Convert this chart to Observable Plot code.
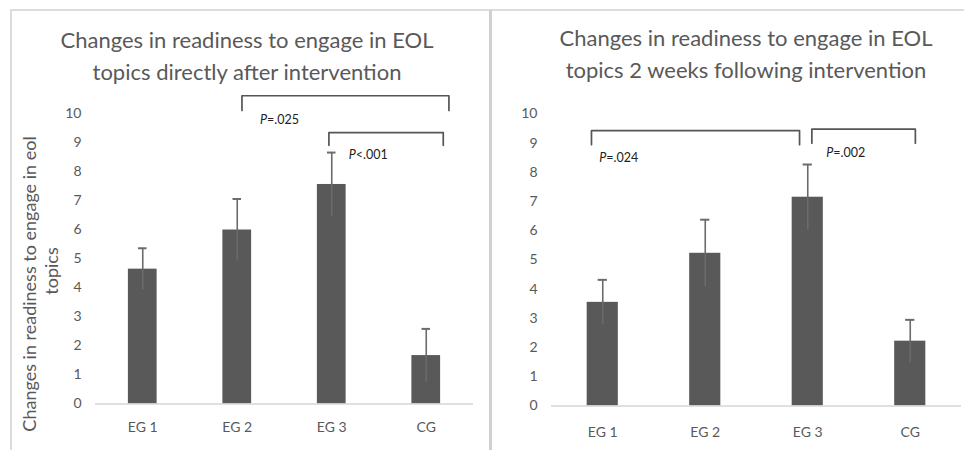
<!DOCTYPE html>
<html>
<head>
<meta charset="utf-8">
<script src="https://cdn.jsdelivr.net/npm/d3@7"></script>
<script src="https://cdn.jsdelivr.net/npm/@observablehq/plot@0.6"></script>
<style>
  html, body { margin: 0; padding: 0; background: #fff; }
  #wrap { position: relative; width: 964px; height: 450px; overflow: hidden; font-family: Lato, sans-serif; }
  .title { position: absolute; font-family: Lato, sans-serif; font-size: 22px; line-height: 32px; color: #595959; text-align: center; white-space: nowrap; }
  .plot { position: absolute; top: 85px; }
  .line { position: absolute; background: #dcdcdc; }
</style>
</head>
<body>
<div id="wrap">
  <div class="line" style="left:10px; top:9px; width:954px; height:2px;"></div>
  <div class="line" style="left:10px; top:10px; width:2px; height:440px;"></div>
  <div class="line" style="left:489px; top:10px; width:3px; height:440px; background:#d0d0d0;"></div>
  <div class="title" id="t1" style="left:47px; width:400px; top:24px;">Changes in readiness to engage in EOL<br>topics directly after intervention</div>
  <div class="title" id="t2" style="left:546px; width:400px; top:22px;">Changes in readiness to engage in EOL<br>topics 2 weeks following intervention</div>
  <div class="plot" id="p1" style="left:0px;"></div>
  <div class="plot" id="p2" style="left:482px;"></div>
</div>
<script>
// ---- data ----
const categories = ["EG 1", "EG 2", "EG 3", "CG"];
const yTicks = [0, 1, 2, 3, 4, 5, 6, 7, 8, 9, 10];

const afterMeans = [4.65, 6.0, 7.57, 1.67];
const afterErrors = [0.72, 1.07, 1.1, 0.92];

const weeksMeans = [3.55, 5.23, 7.15, 2.22];
const weeksErrors = [0.77, 1.15, 1.12, 0.73];

// significance brackets (data units: x = category position, y = value)
const afterBrackets = [
  {from: 2.05, to: 4.24, top: 10.63, end: 10.12},
  {from: 2.97, to: 4.18, top: 9.36, end: 8.92}
];
const afterPLabels = [
  {x: 2.24, y: 9.81, text: "P=.025"},
  {x: 3.18, y: 8.57, text: "P<.001"}
];
const weeksBrackets = [
  {from: 0.89, to: 2.92, top: 9.43, end: 8.95},
  {from: 3.04, to: 4.05, top: 9.48, end: 9.0}
];
const weeksPLabels = [
  {x: 0.965, y: 8.49, text: "P=.024"},
  {x: 3.18, y: 8.66, text: "P=.002"}
];

// ---- drawing ----
const BAR_HALF = 0.152;
const CAP_HALF = 0.045;
const barColor = "#595959";
const errColor = "#6b6b6b";
const textColor = "#595959";

function makeChart(means, errors, brackets, pLabels, opts) {
  const rows = categories.map((c, i) => ({cat: c, pos: i + 1, mean: means[i], err: errors[i]}));
  const bracketPts = brackets.flatMap((b, k) => [
    {k, x: b.from, y: b.end}, {k, x: b.from, y: b.top},
    {k, x: b.to, y: b.top}, {k, x: b.to, y: b.end}
  ]);
  const marks = [
    Plot.rectY(rows, {x1: d => d.pos - BAR_HALF, x2: d => d.pos + BAR_HALF, y1: 0, y2: "mean", fill: barColor}),
    Plot.ruleY([0], {stroke: "#d6d6d6", strokeWidth: 1.5}),
    Plot.ruleX(rows, {x: "pos", y1: d => d.mean - d.err, y2: d => d.mean + d.err, stroke: errColor, strokeWidth: 1.6}),
    Plot.ruleY(rows, {y: d => d.mean + d.err, x1: d => d.pos - CAP_HALF, x2: d => d.pos + CAP_HALF, stroke: errColor, strokeWidth: 2}),
    Plot.line(bracketPts, {x: "x", y: "y", z: "k", stroke: "#555", strokeWidth: 1.7}),
    Plot.text(pLabels, {x: "x", y: "y", text: "text", textAnchor: "start", lineAnchor: "middle", fill: "#222", fontSize: 12.5})
  ];
  if (opts.yLabel) {
    marks.push(Plot.text([opts.yLabel[0]], {frameAnchor: "left", text: d => d, rotate: -90, dx: -65, dy: 25, fontSize: 18, fill: textColor, textAnchor: "middle", lineAnchor: "middle"}));
    marks.push(Plot.text([opts.yLabel[1]], {frameAnchor: "left", text: d => d, rotate: -90, dx: -43, dy: 12, fontSize: 18, fill: textColor, textAnchor: "middle", lineAnchor: "middle"}));
  }
  const svg = Plot.plot({
    width: 482,
    height: 360,
    marginTop: 28.5,
    marginBottom: opts.marginBottom,
    marginLeft: opts.marginLeft,
    marginRight: opts.marginRight,
    style: {fontFamily: "Lato, sans-serif", fontSize: "14px", color: textColor, background: "transparent", overflow: "visible"},
    x: {domain: [0.5, 4.5], ticks: [1, 2, 3, 4], tickFormat: d => categories[d - 1], tickSize: 0, tickPadding: opts.xPad, label: null},
    y: {domain: [0, 10], ticks: yTicks, tickSize: 0, tickPadding: opts.yPad, label: null},
    marks
  });
  d3.select(svg).selectAll("text").filter(function() { return /^P[=<]/.test(this.textContent); }).each(function() {
    const t = this.textContent;
    const sel = d3.select(this);
    sel.text(null);
    sel.append("tspan").attr("font-style", "italic").text("P");
    sel.append("tspan").text(t.slice(1));
  });
  return svg;
}

document.getElementById("p1").appendChild(makeChart(afterMeans, afterErrors, afterBrackets, afterPLabels,
  {marginLeft: 95, marginRight: 9, marginBottom: 41.5, xPad: 18, yPad: 14,
   yLabel: ["Changes in readiness to engage in eol", "topics"]}));
document.getElementById("p2").appendChild(makeChart(weeksMeans, weeksErrors, weeksBrackets, weeksPLabels,
  {marginLeft: 69, marginRight: 3, marginBottom: 39.5, xPad: 21, yPad: 14}));
</script>
</body>
</html>
